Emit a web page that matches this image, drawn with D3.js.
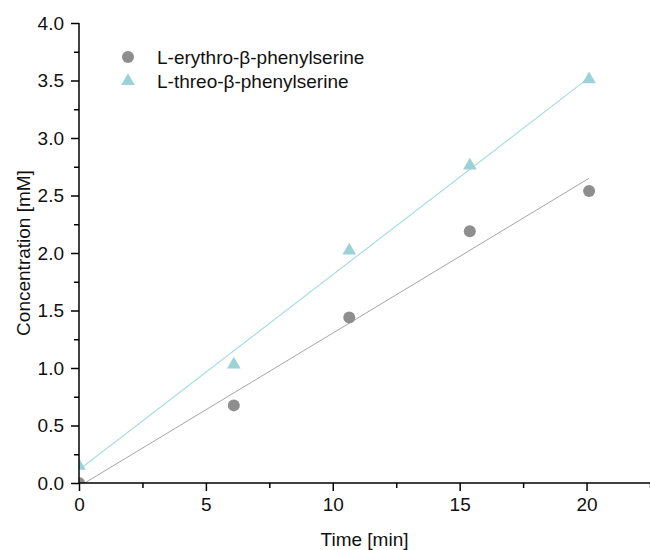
<!DOCTYPE html>
<html>
<head>
<meta charset="utf-8">
<script src="https://cdn.jsdelivr.net/npm/d3@7"></script>
<style>
  body { margin: 0; background: #fff; }
  svg { font-family: "Liberation Sans", Arial, sans-serif; }
</style>
</head>
<body>
<div id="chart"></div>
<script>
// data
const timeMin = [0, 6.1, 10.65, 15.4, 20.1];
const erythro = [0.0, 0.675, 1.44, 2.19, 2.54];
const threo = [0.15, 1.03, 2.02, 2.76, 3.51];
const fitX = [0, 20.1];
const erythroFit = [-0.03, 2.65];
const threoFit = [0.115, 3.525];
const seriesNames = ['L-erythro-β-phenylserine', 'L-threo-β-phenylserine'];
const xTicks = [0, 5, 10, 15, 20];
const yTicks = [0, 0.5, 1, 1.5, 2, 2.5, 3, 3.5, 4];

const width = 650, height = 550;
const margin = { top: 23, right: 0, bottom: 67, left: 79 };
const innerW = width - margin.left - margin.right;
const innerH = height - margin.top - margin.bottom;
const fontSize = 19;

const svg = d3.select('#chart').append('svg')
  .attr('width', width)
  .attr('height', height);

const g = svg.append('g')
  .attr('transform', `translate(${margin.left},${margin.top})`);

const x = d3.scaleLinear().domain([0, 22.5]).range([0, innerW]);
const y = d3.scaleLinear().domain([0, 4]).range([innerH, 0]);

svg.append('defs').append('clipPath').attr('id', 'clip')
  .append('rect').attr('width', innerW).attr('height', innerH);

const plot = g.append('g').attr('clip-path', 'url(#clip)');

// fit lines
const line = d3.line().x(d => x(d[0])).y(d => y(d[1]));
plot.append('path')
  .datum(fitX.map((t, i) => [t, erythroFit[i]]))
  .attr('d', line)
  .attr('fill', 'none')
  .attr('stroke', '#a6a6a6')
  .attr('stroke-width', 1);
plot.append('path')
  .datum(fitX.map((t, i) => [t, threoFit[i]]))
  .attr('d', line)
  .attr('fill', 'none')
  .attr('stroke', '#a9dde0')
  .attr('stroke-width', 1.2);

const circleColor = '#8e8e8e';
const triColor = '#9bd2d5';
const tri = d3.symbol().type(d3.symbolTriangle).size(80);

// points
plot.selectAll('circle.ery')
  .data(timeMin.map((t, i) => [t, erythro[i]]))
  .join('circle')
  .attr('class', 'ery')
  .attr('cx', d => x(d[0]))
  .attr('cy', d => y(d[1]))
  .attr('r', 6)
  .attr('fill', circleColor);

plot.selectAll('path.thr')
  .data(timeMin.map((t, i) => [t, threo[i]]))
  .join('path')
  .attr('class', 'thr')
  .attr('d', tri)
  .attr('transform', d => `translate(${x(d[0])},${y(d[1])})`)
  .attr('fill', triColor);

// axes
const xAxis = g.append('g')
  .attr('transform', `translate(0,${innerH})`)
  .call(d3.axisBottom(x).tickValues(xTicks).tickFormat(d3.format('d')).tickSize(8).tickPadding(7));
const xMinor = g.append('g')
  .attr('transform', `translate(0,${innerH})`)
  .call(d3.axisBottom(x).tickValues([2.5, 7.5, 12.5, 17.5, 22.5]).tickFormat('').tickSize(5).tickSizeOuter(0));

const yAxis = g.append('g')
  .call(d3.axisLeft(y).tickValues(yTicks).tickFormat(d3.format('.1f')).tickSize(8).tickPadding(7));
const yMinor = g.append('g')
  .call(d3.axisLeft(y).tickValues(d3.range(0.25, 4, 0.5)).tickFormat('').tickSize(5).tickSizeOuter(0));

[xAxis, xMinor, yAxis, yMinor].forEach(a => {
  a.selectAll('.domain').attr('stroke', '#000').attr('stroke-width', 1.5);
  a.selectAll('.tick line').attr('stroke', '#000').attr('stroke-width', 1.5);
  a.selectAll('text').attr('font-size', fontSize).attr('fill', '#111')
    .attr('font-family', '"Liberation Sans", Arial, sans-serif');
});
xAxis.select('.domain').attr('d', `M0,0H${innerW}`);
yAxis.select('.domain').attr('d', `M0,${innerH}V0`);
xMinor.select('.domain').remove();
yMinor.select('.domain').remove();

// axis titles
g.append('text')
  .attr('x', innerW / 2)
  .attr('y', innerH + 63)
  .attr('text-anchor', 'middle')
  .attr('font-size', fontSize)
  .attr('fill', '#111')
  .text('Time [min]');

g.append('text')
  .attr('transform', `translate(${-49},${innerH / 2}) rotate(-90)`)
  .attr('text-anchor', 'middle')
  .attr('font-size', fontSize)
  .attr('fill', '#111')
  .text('Concentration [mM]');

// legend
const legend = svg.append('g').attr('transform', 'translate(128,57)');
legend.append('circle').attr('r', 6).attr('fill', circleColor);
legend.append('text').attr('x', 29).attr('y', 7).attr('font-size', fontSize).attr('fill', '#111').text(seriesNames[0]);
legend.append('path').attr('d', tri).attr('transform', 'translate(0,24)').attr('fill', triColor);
legend.append('text').attr('x', 29).attr('y', 31).attr('font-size', fontSize).attr('fill', '#111').text(seriesNames[1]);
</script>
</body>
</html>
